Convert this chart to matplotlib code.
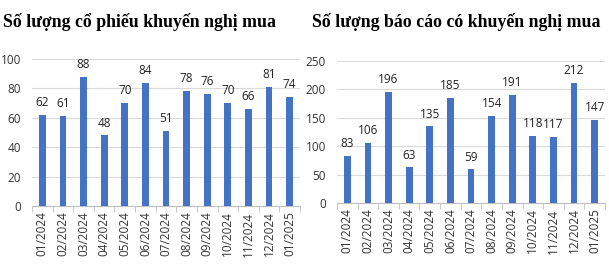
import matplotlib.pyplot as plt
import numpy as np

months = ['01/2024', '02/2024', '03/2024', '04/2024', '05/2024', '06/2024', '07/2024',
          '08/2024', '09/2024', '10/2024', '11/2024', '12/2024', '01/2025']
stocks = [62, 61, 88, 48, 70, 84, 51, 78, 76, 70, 66, 81, 74]
reports = [83, 106, 196, 63, 135, 185, 59, 154, 191, 118, 117, 212, 147]

plt.rcParams['font.family'] = ['Open Sans', 'DejaVu Sans']

fig = plt.figure(figsize=(6.09, 2.67), dpi=100)
ax1 = fig.add_axes([32/609, 1-206/267, 268/609, 147/267])
ax2 = fig.add_axes([337/609, 1-203/267, 268/609, 142/267])


def draw(ax, vals, ymax, step, title, title_x):
    x = np.arange(len(months))
    ax.bar(x, vals, width=0.33, color='#4472C4', zorder=3)
    for xi, v in zip(x, vals):
        ax.text(xi, v + ymax * 0.04, str(v), ha='center', va='bottom', fontsize=8.5, color='#222222')
    ax.set_xlim(-0.5, len(months) - 0.5)
    ax.set_ylim(0, ymax)
    ax.set_yticks(np.arange(0, ymax + 1, step))
    ax.grid(axis='y', color='#D9D9D9', linewidth=0.8, zorder=0)
    for s in ['top', 'right', 'left']:
        ax.spines[s].set_visible(False)
    ax.spines['bottom'].set_color('#BFBFBF')
    ax.set_xticks(x)
    ax.set_xticklabels(months, rotation=90, fontsize=8.5, color='#333333')
    ax.set_xticks(np.arange(-0.5, len(months), 1), minor=True)
    ax.tick_params(axis='x', which='major', length=0, pad=4)
    ax.tick_params(axis='x', which='minor', length=4, color='#BFBFBF')
    ax.tick_params(axis='y', length=0, labelsize=8.5, labelcolor='#333333', pad=8)
    fig.text(title_x, 1 - 22/267, title, fontsize=12.8, fontweight='bold',
             family='Liberation Serif', ha='left', va='center')


draw(ax1, stocks, 100, 20, 'Số lượng cổ phiếu khuyến nghị mua', 3/609)
draw(ax2, reports, 250, 50, 'Số lượng báo cáo có khuyến nghị mua', 312/609)

fig.savefig('out.png', dpi=100)
